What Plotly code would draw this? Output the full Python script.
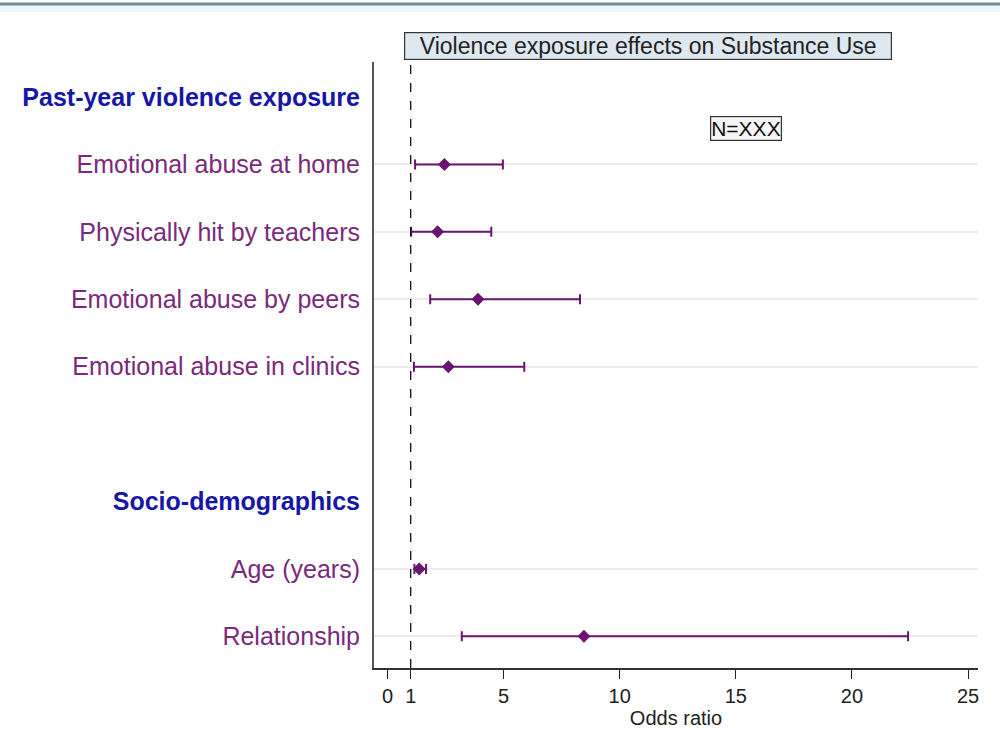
import plotly.graph_objects as go

# ---- data ----
labels = ["Past-year violence exposure", "Emotional abuse at home", "Physically hit by teachers",
          "Emotional abuse by peers", "Emotional abuse in clinics",
          "Socio-demographics", "Age (years)", "Relationship"]
label_pos = [0, 1, 2, 3, 4, 6, 7, 8]
is_header = [True, False, False, False, False, True, False, False]

items = ["Emotional abuse at home", "Physically hit by teachers", "Emotional abuse by peers",
         "Emotional abuse in clinics", "Age (years)", "Relationship"]
item_pos = [1, 2, 3, 4, 7, 8]
odds = [2.45, 2.16, 3.90, 2.62, 1.37, 8.46]
ci_low = [1.19, 1.02, 1.84, 1.14, 1.16, 3.20]
ci_high = [4.97, 4.47, 8.29, 5.89, 1.66, 22.42]

x_ticks = [0, 1, 5, 10, 15, 20, 25]

PURPLE = "#6a1470"
LABEL_PURPLE = "#7a2a7c"
BLUE = "#1616a8"

ticktext = []
for lab, h in zip(labels, is_header):
    if h:
        ticktext.append(f"<b><span style='color:{BLUE};font-size:25px'>{lab}</span></b>")
    else:
        ticktext.append(lab)

fig = go.Figure()
fig.add_trace(go.Scatter(
    x=odds, y=item_pos, mode="markers",
    marker=dict(symbol="diamond", size=10, color=PURPLE),
    error_x=dict(type="data", symmetric=False,
                 array=[h - o for h, o in zip(ci_high, odds)],
                 arrayminus=[o - l for o, l in zip(odds, ci_low)],
                 color=PURPLE, thickness=2, width=5),
    showlegend=False, hoverinfo="skip",
))

fig.add_shape(type="line", xref="x", yref="paper", x0=1, x1=1, y0=0, y1=1,
              line=dict(color="#111", width=1.3, dash="dash"))
# top frame line
fig.add_shape(type="rect", xref="paper", yref="paper", x0=-0.62, x1=1.04,
              y0=(668 - 12) / 606, y1=(668 - 5) / 606,
              line=dict(width=0), fillcolor="#eef6fb", layer="below")
fig.add_shape(type="line", xref="paper", yref="paper", x0=-0.62, x1=1.04,
              y0=(668 - 4) / 606, y1=(668 - 4) / 606,
              line=dict(color="#6f8c99", width=3))

fig.add_annotation(xref="paper", yref="paper", x=(647.5 - 374) / 604, y=(668 - 46) / 606,
                   text="Violence exposure effects on Substance Use", showarrow=False,
                   font=dict(family="Liberation Sans", size=23, color="#222"),
                   bgcolor="#dde8f0", bordercolor="#333", borderwidth=1.2,
                   width=484, height=24, xanchor="center", yanchor="middle")
fig.add_annotation(xref="paper", yref="paper", x=(746 - 374) / 604, y=(668 - 128.5) / 606,
                   text="N=XXX", showarrow=False,
                   font=dict(family="Liberation Sans", size=21, color="#111"),
                   bgcolor="#f6f6f6", bordercolor="#333", borderwidth=1.2,
                   borderpad=0, xanchor="center", yanchor="middle")

fig.update_layout(
    width=1000, height=750,
    margin=dict(l=374, r=22, t=62, b=82),
    paper_bgcolor="white", plot_bgcolor="white",
    font=dict(family="Liberation Sans"),
    xaxis=dict(range=[-0.58, 25.43], tickvals=x_ticks, ticks="outside", ticklen=9,
               tickwidth=1.3, tickcolor="#222", showgrid=False, zeroline=False,
               showline=True, linecolor="#333", linewidth=1.5,
               tickfont=dict(size=20, color="#222"),
               title=dict(text="Odds ratio", font=dict(size=20, color="#222"), standoff=2)),
    yaxis=dict(range=[8.47, -0.52], tickvals=label_pos, ticktext=ticktext,
               ticks="", showgrid=False, zeroline=False,
               showline=True, linecolor="#555", linewidth=2,
               tickfont=dict(size=25, color=LABEL_PURPLE), ticklabelstandoff=7,
               minor=dict(tickvals=item_pos, showgrid=True, gridcolor="#ececec",
                          gridwidth=1.5, ticks="")),
)

fig.write_html("out.html")
